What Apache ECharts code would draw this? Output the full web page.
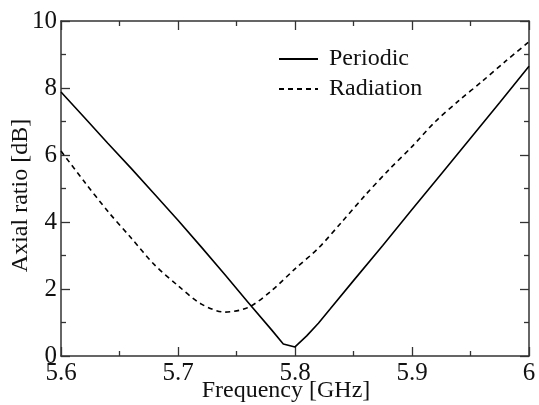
<!DOCTYPE html>
<html>
<head>
<meta charset="utf-8">
<script src="https://cdn.jsdelivr.net/npm/echarts@6/dist/echarts.min.js"></script>
<style>html,body{margin:0;padding:0;background:#fff}#c{width:539px;height:405px}</style>
</head>
<body>
<div id="c"></div>
<script>
var freqPeriodic = [5.60, 5.62, 5.64, 5.66, 5.68, 5.70, 5.72, 5.74, 5.76, 5.78, 5.79, 5.80, 5.81, 5.82, 5.83, 5.85, 5.875, 5.90, 5.925, 5.95, 5.975, 6.00];
var periodic =     [7.88, 7.12, 6.35, 5.60, 4.83, 4.05, 3.25, 2.43, 1.60, 0.78, 0.36, 0.27, 0.60, 0.98, 1.40, 2.25, 3.30, 4.37, 5.43, 6.50, 7.57, 8.65];
var freqRadiation = [5.60, 5.62, 5.64, 5.66, 5.68, 5.70, 5.72, 5.74, 5.76, 5.78, 5.80, 5.82, 5.84, 5.86, 5.88, 5.90, 5.92, 5.94, 5.96, 5.98, 6.00];
var radiation =     [6.12, 5.20, 4.32, 3.52, 2.72, 2.10, 1.55, 1.31, 1.45, 1.95, 2.60, 3.22, 4.00, 4.80, 5.55, 6.25, 7.00, 7.62, 8.20, 8.80, 9.38];
var xTicks = ['5.6', '5.7', '5.8', '5.9', '6'];
var yTicks = ['0', '2', '4', '6', '8', '10'];

function pairs(xs, ys) { return xs.map(function (x, i) { return [x, ys[i]]; }); }

var FONT = 'Liberation Serif';
var axisCol = '#333';
var baseAxis = {
  axisLine: { show: true, onZero: false, lineStyle: { color: axisCol, width: 1.5 } },
  axisTick: { show: true, inside: true, length: 9, lineStyle: { color: axisCol, width: 1.3 } },
  minorTick: { show: true, splitNumber: 2, length: 5, lineStyle: { color: axisCol, width: 1.3 } },
  splitLine: { show: false },
  minorSplitLine: { show: false }
};
function ax(extra) { return Object.assign({}, JSON.parse(JSON.stringify(baseAxis)), extra); }

var chart = echarts.init(document.getElementById('c'), null, { renderer: 'canvas' });
chart.setOption({
  animation: false,
  backgroundColor: '#fff',
  grid: { left: 61, right: 10, top: 21, bottom: 49, containLabel: false, outerBoundsMode: 'none' },
  legend: {
    orient: 'vertical', left: 278, top: 47, padding: 0,
    itemWidth: 39, itemHeight: 14, itemGap: 6,
    itemStyle: { opacity: 0 },
    textStyle: { fontFamily: FONT, fontSize: 24, color: '#111', padding: [0, 0, 0, 6] },
    data: ['Periodic', 'Radiation']
  },
  xAxis: [
    ax({ type: 'value', min: 5.6, max: 6, interval: 0.1, position: 'bottom',
      name: 'Frequency [GHz]', nameLocation: 'middle', nameGap: 23, nameMoveOverlap: false,
      nameTextStyle: { fontFamily: FONT, fontSize: 24, color: '#111', padding: [0, 18, 0, 0] },
      axisLabel: { fontFamily: FONT, fontSize: 25, color: '#111', margin: 5,
        formatter: function (v) { var i = Math.round((v - 5.6) / 0.1); return xTicks[i]; } } }),
    ax({ type: 'value', min: 5.6, max: 6, interval: 0.1, position: 'top', axisLabel: { show: false } })
  ],
  yAxis: [
    ax({ type: 'value', min: 0, max: 10, interval: 2, position: 'left',
      name: 'Axial ratio [dB]', nameLocation: 'middle', nameGap: 28, nameMoveOverlap: false,
      nameTextStyle: { fontFamily: FONT, fontSize: 24, color: '#111', padding: [0, 14, 0, 0] },
      axisLabel: { fontFamily: FONT, fontSize: 25, color: '#111', margin: 4,
        formatter: function (v) { return yTicks[Math.round(v / 2)]; } } }),
    ax({ type: 'value', min: 0, max: 10, interval: 2, position: 'right', axisLabel: { show: false } })
  ],
  series: [
    { name: 'Periodic', type: 'line', xAxisIndex: 0, yAxisIndex: 0, symbol: 'none',
      data: pairs(freqPeriodic, periodic),
      lineStyle: { color: '#000', width: 1.6, type: 'solid' }, itemStyle: { color: '#000' } },
    { name: 'Radiation', type: 'line', xAxisIndex: 0, yAxisIndex: 0, symbol: 'none', smooth: 0.3,
      data: pairs(freqRadiation, radiation),
      lineStyle: { color: '#000', width: 1.6, type: [5, 4] }, itemStyle: { color: '#000' } }
  ]
});
</script>
</body>
</html>
